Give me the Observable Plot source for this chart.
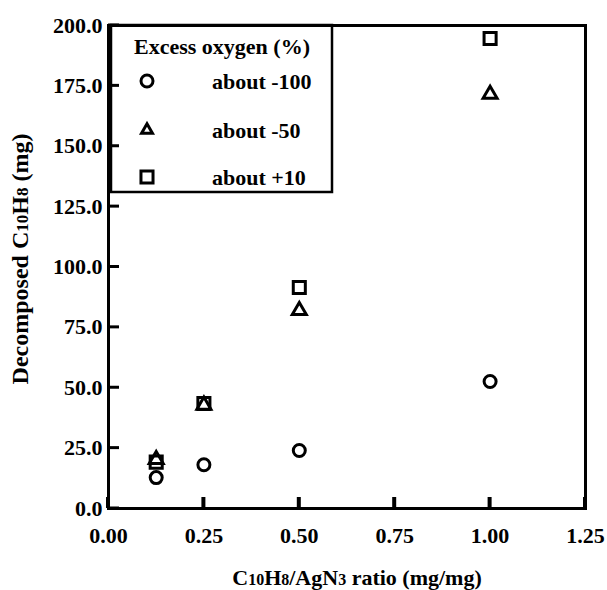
<!DOCTYPE html>
<html>
<head>
<meta charset="utf-8">
<script src="https://cdn.jsdelivr.net/npm/d3@7"></script>
<script src="https://cdn.jsdelivr.net/npm/@observablehq/plot@0.6"></script>
<style>
  html, body { margin: 0; padding: 0; background: #fff; }
  #chart { position: relative; width: 607px; height: 590px; }
</style>
</head>
<body>
<div id="chart"></div>
<script>
// ---- data ----
const ratios = [0.125, 0.25, 0.5, 1.0];
const oxygenMinus100 = [12.8, 18.1, 24.0, 52.6];
const oxygenMinus50 = [20.3, 42.8, 82.0, 171.5];
const oxygenPlus10 = [19.2, 43.5, 91.5, 194.6];
const seriesLabels = ["about -100", "about -50", "about +10"];
const seriesSymbols = ["circle", "triangle", "square"];
const legendTitle = "Excess oxygen (%)";
const xTicks = [0, 0.25, 0.5, 0.75, 1.0, 1.25];
const yTicks = [0, 25, 50, 75, 100, 125, 150, 175, 200];
const xLabel = "C10H8/AgN3 ratio (mg/mg)";
const yLabel = "Decomposed C10H8 (mg)";

const seriesValues = [oxygenMinus100, oxygenMinus50, oxygenPlus10];
const rows = seriesValues.map((vals, s) =>
  ratios.map((x, i) => ({x, y: vals[i], series: seriesLabels[s]})));
const symbolR = {circle: 6, triangle: 5.2, square: 6.8};

const font = "'Liberation Serif', 'Times New Roman', serif";

const W = 607, H = 590, mL = 108, mR = 22, mT = 25, mB = 82;
const tickLen = 11;

const plot = Plot.plot({
  width: W,
  height: H,
  marginLeft: mL,
  marginRight: mR,
  marginTop: mT,
  marginBottom: mB,
  style: {fontFamily: font, fontSize: "22px", fontWeight: "bold", color: "#000", background: "#fff"},
  x: {domain: [0, 1.25]},
  y: {domain: [0, 200]},
  marks: [
    // tick labels
    Plot.axisX({ticks: xTicks, tickFormat: d3.format(".2f"), tickSize: 0, tickPadding: 19, label: null}),
    Plot.axisY({ticks: yTicks, tickFormat: d3.format(".1f"), tickSize: 0, tickPadding: 6, label: null}),
    // axis titles
    Plot.text([xLabel], {frameAnchor: "bottom", dy: 69, dx: 10, fontSize: 22, lineAnchor: "middle", textAnchor: "middle"}),
    Plot.text([yLabel], {frameAnchor: "left", rotate: -90, dx: -88, dy: -8, fontSize: 24, lineAnchor: "middle", textAnchor: "middle"}),
    // data
    ...rows.map((r, s) => Plot.dot(r, {
      x: "x", y: "y", symbol: seriesSymbols[s], r: symbolR[seriesSymbols[s]],
      stroke: "#000", strokeWidth: 3, fill: "none"
    })),
    Plot.frame({stroke: "#000", strokeWidth: 3, fill: "none"})
  ]
});

// smaller digits in chemical formulas
function formulaize(textEl) {
  const str = textEl.textContent;
  if (!/C10H8/.test(str)) return;
  const base = parseFloat(textEl.getAttribute("font-size") || (textEl.parentNode && textEl.parentNode.getAttribute("font-size")) || 22);
  textEl.textContent = "";
  const parts = str.split(/(\d+)/);
  for (const p of parts) {
    if (!p) continue;
    const t = document.createElementNS("http://www.w3.org/2000/svg", "tspan");
    t.textContent = p;
    if (/^\d+$/.test(p)) t.setAttribute("font-size", String(Math.round(base * 0.72)));
    textEl.appendChild(t);
  }
}
plot.querySelectorAll("text").forEach(formulaize);

const svg = d3.select(plot);

// legend box inside the plot area
const lg = svg.append("g").attr("font-family", font).attr("font-weight", "bold").attr("font-size", 22)
  .attr("text-anchor", "start");
lg.append("rect").attr("x", 111).attr("y", 25).attr("width", 221).attr("height", 167)
  .attr("fill", "#fff").attr("stroke", "#000").attr("stroke-width", 2.5);
lg.append("text").attr("x", 222).attr("y", 46).attr("dy", "0.35em").attr("text-anchor", "middle").text(legendTitle);
const rowY = [81, 130, 177];
const symMap = {circle: d3.symbolCircle, triangle: d3.symbolTriangle2, square: d3.symbolSquare};
seriesLabels.forEach((lab, i) => {
  const sym = seriesSymbols[i];
  const rr = symbolR[sym];
  lg.append("path")
    .attr("transform", `translate(147,${rowY[i]})`)
    .attr("d", d3.symbol(symMap[sym], Math.PI * rr * rr)())
    .attr("fill", "none").attr("stroke", "#000").attr("stroke-width", 3);
  lg.append("text").attr("x", 212).attr("y", rowY[i]).attr("dy", "0.35em").text(lab);
});

// inward tick marks as filled bars, positioned with the plot's own scales
const sx = plot.scale("x"), sy = plot.scale("y");
const fx = d3.scaleLinear(sx.domain, sx.range);
const fy = d3.scaleLinear(sy.domain, sy.range);
const x0 = fx(sx.domain[0]), y0 = fy(sy.domain[0]);
for (const d of xTicks) {
  lg.append("rect").attr("x", fx(d) - 2).attr("y", y0 - tickLen).attr("width", 4).attr("height", tickLen)
    .attr("fill", "#000").attr("stroke", "none");
}
for (const d of yTicks) {
  lg.append("rect").attr("x", x0).attr("y", fy(d) - 1.5).attr("width", tickLen).attr("height", 3)
    .attr("fill", "#000").attr("stroke", "none");
}

// keep the frame on top of the legend box
plot.querySelectorAll("[aria-label=frame]").forEach(el => plot.appendChild(el));

document.getElementById("chart").appendChild(plot);
</script>
</body>
</html>
